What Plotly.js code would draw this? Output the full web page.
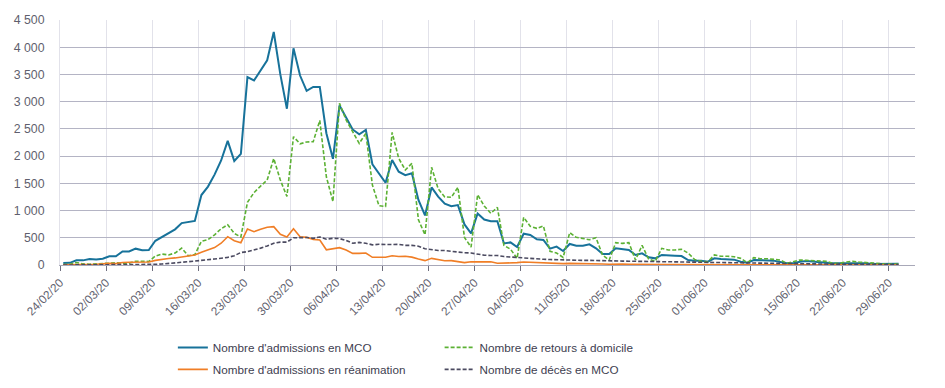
<!DOCTYPE html>
<html>
<head>
<meta charset="utf-8">
<script src="https://cdn.plot.ly/plotly-3.0.1.min.js"></script>
<style>html,body{margin:0;padding:0;background:#fff;}#chart{width:945px;height:388px;}</style>
</head>
<body>
<div id="chart"></div>
<script>
// Daily series from 24/02/20 to 30/06/20
const startDate = '2020-02-24';
const seriesNames = [
  "Nombre d'admissions en MCO",
  "Nombre de retours à domicile",
  "Nombre d'admissions en réanimation",
  "Nombre de décès en MCO"
];
const admissionsMCO = [
  35,40,85,85,110,100,115,160,160,250,250,300,270,275,445,510,580,655,770,790,
  810,1285,1440,1660,1920,2280,1910,2040,3450,3390,3580,3760,4280,3500,2870,3980,3480,3200,3270,3270,
  2420,1950,2930,2710,2490,2400,2480,1850,1680,1510,1930,1714,1650,1684,1194,910,1425,1255,1125,1080,
  1100,745,582,945,835,805,805,395,415,330,575,551,471,460,300,337,257,386,355,355,
  380,306,202,202,306,294,275,184,214,141,122,184,171,171,165,92,80,80,61,122,
  110,110,98,61,43,92,92,86,80,55,31,31,61,73,67,61,43,31,31,43,
  43,31,31,18,18,18,24,24
];
const retoursDomicile = [
  10,15,45,20,15,20,25,40,40,35,35,70,70,65,165,200,185,220,310,170,
  190,435,465,555,665,740,580,515,1150,1330,1450,1560,1955,1560,1260,2357,2225,2260,2265,2655,
  1620,1163,2969,2663,2449,2234,2418,1469,1090,1075,2435,1959,1745,1867,830,555,1794,1400,1250,1243,
  1426,505,330,1290,1085,949,1059,360,290,122,875,710,673,716,250,220,140,594,508,480,
  465,500,180,92,410,398,410,92,360,110,67,306,276,276,288,220,100,67,61,184,
  160,160,153,122,43,135,116,116,110,92,31,61,92,86,80,73,67,31,31,55,
  67,55,43,37,24,18,18,18
];
const admissionsRea = [
  5,5,8,10,15,15,20,30,25,45,50,50,55,55,85,105,120,130,150,165,
  185,235,275,320,400,520,447,410,661,612,655,692,704,563,515,667,520,508,471,459,
  280,300,318,275,214,214,220,141,141,141,170,155,160,145,110,80,122,104,78,80,
  61,43,61,61,49,58,31,31,43,43,55,49,43,49,31,31,25,30,25,20,
  22,20,18,15,20,18,15,12,14,10,10,12,10,10,9,8,7,7,6,8,
  6,6,5,5,4,5,5,4,4,3,3,4,4,3,3,3,2,2,3,2,
  2,2,2,2,1,1,1,1
];
const decesMCO = [
  0,0,0,0,0,0,1,1,1,2,2,3,5,8,12,18,25,40,50,60,
  70,80,95,110,125,140,170,230,245,275,310,350,400,420,420,500,505,505,490,515,
  475,490,485,450,400,415,400,370,380,375,375,380,360,360,345,300,285,265,265,250,
  245,225,220,200,180,175,175,155,145,140,130,120,110,105,100,95,95,90,90,85,
  85,80,75,80,75,72,70,68,68,60,60,58,55,55,52,48,45,45,40,40,
  38,35,35,32,30,30,28,27,26,25,24,22,21,20,20,18,17,16,16,15,
  14,13,12,12,11,10,10,9
];
const yTickVals = [0,500,1000,1500,2000,2500,3000,3500,4000,4500];
const yTickText = ['0','500','1 000','1 500','2 000','2 500','3 000','3 500','4 000','4 500'];

// day centres (each daily value is drawn at the middle of its day)
function dayDates(n) {
  const out = [];
  const t0 = new Date(startDate + 'T12:00:00Z').getTime();
  for (let i = 0; i < n; i++) {
    const d = new Date(t0 + i * 86400000);
    out.push(d.toISOString().slice(0, 10) + ' 12:00');
  }
  return out;
}
const dates = dayDates(admissionsMCO.length);

const traces = [
  {x: dates, y: admissionsMCO, name: seriesNames[0], type: 'scatter', mode: 'lines',
   line: {color: '#17729a', width: 2}, legend: 'legend', legendgroup: 'a'},
  {x: dates, y: retoursDomicile, name: seriesNames[1], type: 'scatter', mode: 'lines',
   line: {color: '#5cb134', width: 1.6, dash: '4px,2px'}, legend: 'legend2', legendgroup: 'b'},
  {x: dates, y: admissionsRea, name: seriesNames[2], type: 'scatter', mode: 'lines',
   line: {color: '#f07e26', width: 1.6}, legend: 'legend', legendgroup: 'c'},
  {x: dates, y: decesMCO, name: seriesNames[3], type: 'scatter', mode: 'lines',
   line: {color: '#4b4a60', width: 1.6, dash: '4px,2px'}, legend: 'legend2', legendgroup: 'd'}
];

const legendCommon = {
  orientation: 'v', yanchor: 'top', xanchor: 'left', yref: 'container', bgcolor: 'rgba(0,0,0,0)',
  font: {family: 'Liberation Sans, Arial, sans-serif', size: 11.7, color: '#404050'},
  tracegroupgap: 3, itemwidth: 30
};

const layout = {
  width: 945, height: 388,
  margin: {l: 60, r: 30, t: 20, b: 123, autoexpand: false},
  paper_bgcolor: '#ffffff', plot_bgcolor: '#ffffff',
  font: {family: 'Liberation Sans, Arial, sans-serif', color: '#595968'},
  showlegend: true,
  legend: Object.assign({}, legendCommon, {x: 0.132, y: 0.142}),
  legend2: Object.assign({}, legendCommon, {x: 0.444, y: 0.142}),
  xaxis: {
    type: 'date', automargin: false,
    range: ['2020-02-24', '2020-07-03'],
    tick0: '2020-02-24', dtick: 7 * 86400000,
    tickformat: '%d/%m/%y', tickangle: -45,
    tickfont: {size: 11.8, color: '#5f5f6e'},
    showgrid: true, gridcolor: '#e2e2ea', gridwidth: 1,
    showline: true, linecolor: '#a8a8b8', linewidth: 1.3,
    ticks: 'outside', ticklen: 5, tickcolor: '#6e6e7e', tickwidth: 1,
    zeroline: false, fixedrange: true
  },
  yaxis: {
    automargin: false,
    range: [0, 4500],
    tickvals: yTickVals, ticktext: yTickText,
    tickfont: {size: 12.3, color: '#5f5f6e'},
    ticklabelstandoff: 12,
    showgrid: true, gridcolor: '#b4b4c4', gridwidth: 1,
    showline: true, linecolor: '#e2e2ea', linewidth: 1,
    ticks: '', zeroline: false, fixedrange: true
  }
};

Plotly.newPlot('chart', traces, layout, {staticPlot: true, displayModeBar: false});
</script>
</body>
</html>
